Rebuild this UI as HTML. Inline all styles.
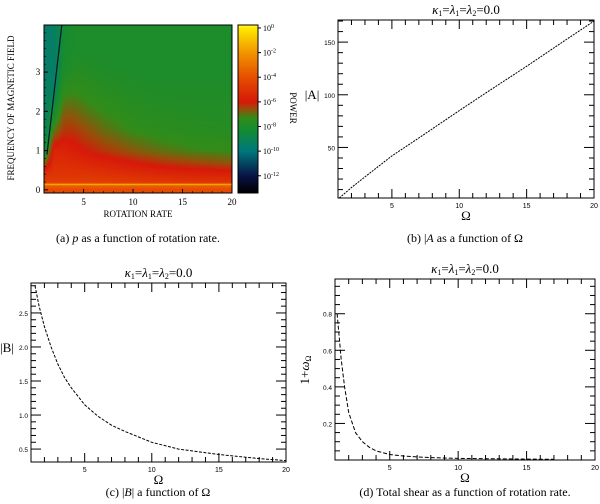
<!DOCTYPE html>
<html><head><meta charset="utf-8"><style>
body{margin:0;background:#fff;width:600px;height:504px;overflow:hidden;position:relative;font-family:"Liberation Serif",serif}
svg{position:absolute;left:0;top:0}
</style></head><body>
<svg id="fig" width="600" height="504" viewBox="0 0 600 504">
<foreignObject x="44" y="25" width="188" height="168"><canvas xmlns="http://www.w3.org/1999/xhtml" id="hm" width="188" height="168"></canvas></foreignObject>
<foreignObject x="238" y="25" width="20" height="168"><canvas xmlns="http://www.w3.org/1999/xhtml" id="cb" width="20" height="168"></canvas></foreignObject>
</svg>
<script>
// ---------- panel (a) heatmap data ----------
const hmOmega=[1,2,3,4,5,7,10,13,16,20];
const hmFreq=[0,0.11,0.14,0.17,0.4,0.7,1.0,1.5,2,2.5,3,3.5,4.2];
const hmLogPower=[
[-4.3,-4.2,-4.2,-4.2,-4.2,-4.2,-4.2,-4.2,-4.2,-4.2],
[-3.6,-3.5,-3.5,-3.5,-3.5,-3.5,-3.5,-3.5,-3.5,-3.5],
[-0.8,-0.8,-0.8,-0.8,-0.8,-0.8,-0.8,-0.8,-0.8,-0.8],
[-4.6,-4.6,-4.6,-4.6,-4.6,-4.6,-4.7,-4.8,-4.9,-4.9],
[-5.2,-5,-5,-5,-5,-5.1,-5.3,-5.5,-5.6,-5.7],
[-7,-5.3,-5.3,-5.4,-5.5,-5.7,-6,-6.3,-6.5,-6.7],
[-8.5,-5.6,-5.6,-5.8,-6,-6.3,-6.7,-7,-7.2,-7.3],
[-9.5,-7,-6.3,-6.3,-6.5,-6.9,-7.3,-7.5,-7.6,-7.7],
[-9.5,-8.3,-6.8,-6.8,-7,-7.3,-7.6,-7.7,-7.8,-7.8],
[-9.5,-9.2,-7.4,-7.3,-7.4,-7.6,-7.8,-7.9,-7.9,-7.9],
[-9.5,-9.5,-8,-7.7,-7.7,-7.9,-8,-8,-8,-8],
[-9.5,-9.5,-8.2,-8,-8,-8,-8,-8,-8,-8],
[-9.5,-9.5,-8.3,-8,-8,-8,-8,-8,-8,-8]];
const cbTicks=[0,-2,-4,-6,-8,-10,-12];
const hmXTicks=[5,10,15,20];
const hmYTicks=[0,1,2,3];
// ---------- line panels data ----------
const omegaA=[1.1,2,3,4,5,7,10,12,15,18,20];
const valuesA=[2,12,22,32,42,59,85,102,127,153,170];
const omegaB=[1.3,1.6,2,2.5,3,3.5,4,5,6,7,8,10,12,15,18,20];
const valuesB=[2.9,2.6,2.3,2.0,1.75,1.55,1.4,1.15,0.98,0.85,0.76,0.6,0.5,0.42,0.36,0.33];
const omegaD=[1.15,1.3,1.45,1.7,2,2.5,3,3.5,4,5,6,7,8,10,12,15,17];
const valuesD=[0.8,0.68,0.55,0.4,0.26,0.15,0.1,0.07,0.05,0.03,0.022,0.017,0.013,0.009,0.007,0.005,0.004];
const xTicksLine=[5,10,15,20];
const yTicksA=[50,100,150];
const yTicksB=[0.5,1.0,1.5,2.0,2.5];
const yTicksD=[0.2,0.4,0.6,0.8];

const NS="http://www.w3.org/2000/svg";
const fig=document.getElementById('fig');
function el(tag,attrs,parent){const e=document.createElementNS(NS,tag);for(const k in attrs)e.setAttribute(k,attrs[k]);(parent||fig).appendChild(e);return e;}
function txt(x,y,s,size,anchor,family,parent){const t=el('text',{x:x,y:y,'font-size':size,'text-anchor':anchor||'middle','font-family':family||'"Liberation Serif",serif',fill:'#000'},parent);t.textContent=s;return t;}

const cmStops=[[-13.4,[0,0,0]],[-12,[10,20,70]],[-10,[0,120,125]],[-8.3,[20,140,50]],[-7.3,[50,140,25]],[-6.6,[150,80,10]],[-6,[215,25,10]],[-4,[230,80,0]],[-2,[242,150,0]],[0,[255,235,0]],[0.3,[255,255,80]]];
function cmap(v){if(v<=cmStops[0][0])return cmStops[0][1];for(let i=1;i<cmStops.length;i++){if(v<=cmStops[i][0]){const a=cmStops[i-1],b=cmStops[i];const t=(v-a[0])/(b[0]-a[0]);return a[1].map((c,j)=>c+(b[1][j]-c)*t);}}return cmStops[cmStops.length-1][1];}
function seg(arr,v){for(let i=0;i<arr.length-1;i++){if(v<=arr[i+1])return [i,Math.max(0,Math.min(1,(v-arr[i])/(arr[i+1]-arr[i])))];}return [arr.length-2,1];}

const ax={x0:44,x1:232,y0:25,y1:193,omMin:1,omMax:20,fMin:-0.08,fMax:4.2};
const sxA=o=>ax.x0+(o-ax.omMin)/(ax.omMax-ax.omMin)*(ax.x1-ax.x0);
const syA=f=>ax.y1-(f-ax.fMin)/(ax.fMax-ax.fMin)*(ax.y1-ax.y0);
(function(){
const c=document.getElementById('hm').getContext('2d');
const W=188,H=168;const img=c.createImageData(W,H);
for(let py=0;py<H;py++){const f=ax.fMax-(py+0.5)/H*(ax.fMax-ax.fMin);const [ri,rt]=seg(hmFreq,Math.max(0,f));
for(let px=0;px<W;px++){const o=ax.omMin+(px+0.5)/W*(ax.omMax-ax.omMin);const [ci,ct]=seg(hmOmega,o);
const v=(hmLogPower[ri][ci]*(1-ct)+hmLogPower[ri][ci+1]*ct)*(1-rt)+(hmLogPower[ri+1][ci]*(1-ct)+hmLogPower[ri+1][ci+1]*ct)*rt;
const col=cmap(v);const k=(py*W+px)*4;img.data[k]=col[0];img.data[k+1]=col[1];img.data[k+2]=col[2];img.data[k+3]=255;}}
c.putImageData(img,0,0);
const cb=document.getElementById('cb').getContext('2d');
for(let py=0;py<168;py++){const v=0.24-(py+0.5)/168*(0.24+13.4);const col=cmap(v);cb.fillStyle=`rgb(${col[0]|0},${col[1]|0},${col[2]|0})`;cb.fillRect(0,py,20,1);}
})();
const ridge=el('line',{x1:sxA(1.3),y1:syA(0.9),x2:sxA(2.8),y2:syA(4.2),stroke:'#05153a','stroke-width':1.2});

el('rect',{x:44,y:25,width:188,height:168,fill:'none',stroke:'#000','stroke-width':1});
el('rect',{x:238,y:25,width:20,height:168,fill:'none',stroke:'#000','stroke-width':1});
hmXTicks.forEach(t=>{const x=sxA(t);el('line',{x1:x,y1:193,x2:x,y2:189,stroke:'#000'});const l=txt(x,205,String(t),9);});
for(let t=2;t<20;t++){const x=sxA(t);el('line',{x1:x,y1:193,x2:x,y2:191,stroke:'#000','stroke-width':0.6});}
hmYTicks.forEach(t=>{const y=syA(t);el('line',{x1:44,y1:y,x2:48,y2:y,stroke:'#000'});const l=txt(38,y+3,String(t),9);});
for(let t=0.2;t<4.2;t+=0.2){const y=syA(t);el('line',{x1:44,y1:y,x2:46,y2:y,stroke:'#000','stroke-width':0.6});}
const cbY=v=>25+(0.24-v)/(13.64)*168;
cbTicks.forEach(t=>{const y=cbY(t);el('line',{x1:258,y1:y,x2:261,y2:y,stroke:'#000'});const g=el('text',{x:263,y:y+3,'font-size':8,'font-family':'"Liberation Serif",serif'});g.innerHTML='10<tspan dy="-3" font-size="6">'+t+'</tspan>';});
let t1=txt(138,217,'ROTATION RATE',9);
let t2=txt(0,0,'FREQUENCY OF MAGNETIC FIELD',9);t2.setAttribute('transform','translate(14,108) rotate(-90)');
let t3=txt(0,0,'POWER',9);t3.setAttribute('transform','translate(290,108) rotate(90)');
let c1=el('text',{x:138,y:242,'font-size':12,'text-anchor':'middle','font-family':'"Liberation Serif",serif'});c1.innerHTML='(a)  <tspan font-style="italic">p</tspan> as a function of rotation rate.';

function linePanel(p){
const sx=o=>p.x0+(o-1)/(19)*(p.x1-p.x0);
const sy=v=>p.y1-(v-p.vMin)/(p.vMax-p.vMin)*(p.y1-p.y0);
const g=el('g',{});
el('rect',{x:p.x0,y:p.y0,width:p.x1-p.x0,height:p.y1-p.y0,fill:'none',stroke:'#000','stroke-width':1},g);
for(let t=2;t<20;t++){const x=sx(t);const L=(t%5==0)?9:5;el('line',{x1:x,y1:p.y1,x2:x,y2:p.y1-L,stroke:'#000'},g);el('line',{x1:x,y1:p.y0,x2:x,y2:p.y0+L,stroke:'#000'},g);}
p.xTicks.forEach(t=>{const l=txt(sx(t),p.y1+10,String(t),7,'middle','"Liberation Sans",sans-serif',g);});
for(let v=p.minorStart;v<p.vMax;v+=p.minorStep){const y=sy(v);if(y<p.y0+1||y>p.y1-1)continue;const maj=p.yTicks.some(t=>Math.abs(t-v)<1e-6);const L=maj?10:5;el('line',{x1:p.x0,y1:y,x2:p.x0+L,y2:y,stroke:'#000'},g);el('line',{x1:p.x1,y1:y,x2:p.x1-L,y2:y,stroke:'#000'},g);}
p.yTicks.forEach(t=>{const l=txt(p.x0-3,sy(t)+3,p.fmt(t),6.5,'end','"Liberation Sans",sans-serif',g);});
const d=p.xs.map((o,i)=>(i?'L':'M')+sx(o).toFixed(1)+','+sy(p.ys[i]).toFixed(1)).join(' ');
const path=el('path',{d:d,fill:'none',stroke:'#000','stroke-width':1,'stroke-dasharray':p.dash},g);

const ti=el('text',{x:(p.x0+p.x1)/2,y:p.y0-6,'font-size':13,'text-anchor':'middle','font-family':'"Liberation Serif",serif'},g);
ti.innerHTML='<tspan font-style="italic">κ</tspan><tspan font-size="8" dy="2">1</tspan><tspan dy="-2">=</tspan><tspan font-style="italic">λ</tspan><tspan font-size="8" dy="2">1</tspan><tspan dy="-2">=</tspan><tspan font-style="italic">λ</tspan><tspan font-size="8" dy="2">2</tspan><tspan dy="-2">=0.0</tspan>';

const xt=txt((p.x0+p.x1)/2,p.y1+22,'Ω',13,'middle',null,g);
const yt=el('text',{'font-size':13,'font-family':'"Liberation Serif",serif','text-anchor':'middle'},g);yt.innerHTML=p.ylab;
if(p.rot)yt.setAttribute('transform',`translate(${p.ylx},${p.yly}) rotate(-90)`);else{yt.setAttribute('x',p.ylx);yt.setAttribute('y',p.yly);}

const cap=el('text',{x:p.capx,y:p.capy,'font-size':12,'text-anchor':'middle','font-family':'"Liberation Serif",serif'},g);cap.innerHTML=p.cap;

}
linePanel({name:'panel-b',x0:338,x1:594,y0:20,y1:198,vMin:2,vMax:171,xTicks:xTicksLine,yTicks:yTicksA,minorStart:10,minorStep:10,fmt:t=>String(t),xs:omegaA,ys:valuesA,dash:'2,1',ylab:'|A|',ylx:312,yly:99,capx:465,capy:242,cap:'(b)  |<tspan font-style="italic">A</tspan>  as a function of Ω'});
linePanel({name:'panel-c',x0:31,x1:286,y0:283,y1:462,vMin:0.31,vMax:2.94,xTicks:xTicksLine,yTicks:yTicksB,minorStart:0.5,minorStep:0.1,fmt:t=>t.toFixed(1),xs:omegaB,ys:valuesB,dash:'3,1.5',ylab:'|B|',ylx:7,yly:352,capx:158,capy:496,cap:'(c)  |<tspan font-style="italic">B</tspan>| a function of Ω'});
linePanel({name:'panel-d',x0:335,x1:595,y0:279,y1:460,vMin:0,vMax:0.99,xTicks:xTicksLine,yTicks:yTicksD,minorStart:0.05,minorStep:0.05,fmt:t=>t.toFixed(1),xs:omegaD,ys:valuesD,dash:'4,2',ylab:'1+<tspan font-style="italic">ω</tspan><tspan font-size="8" dy="2">Ω</tspan>',rot:true,ylx:309,yly:370,capx:465,capy:496,cap:'(d)  Total shear as a function of rotation rate.'});
</script>
</body></html>
